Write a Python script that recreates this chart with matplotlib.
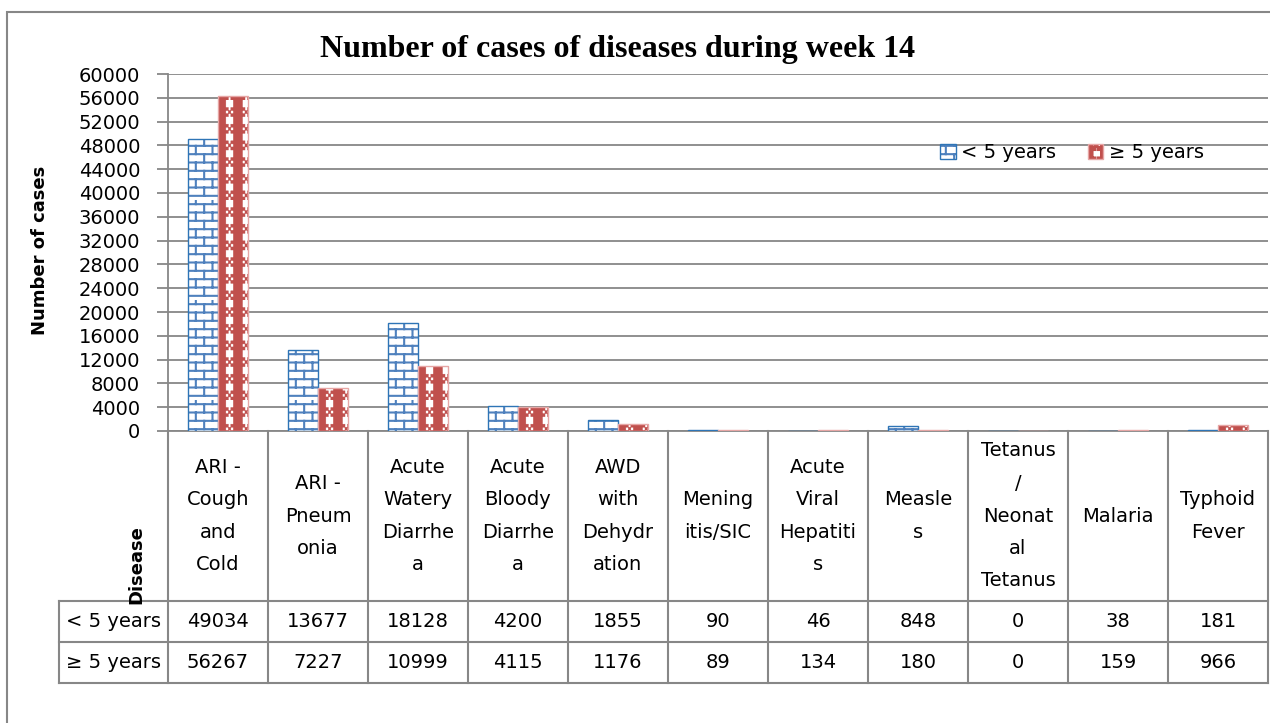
import warnings
warnings.filterwarnings("ignore")
import numpy as np
import matplotlib
matplotlib.use("Agg")
import matplotlib.pyplot as plt
import matplotlib.hatch as mhatch
from matplotlib.path import Path
from matplotlib.colors import to_rgba
from matplotlib.patches import Rectangle

# ---------------- data ----------------
categories = ["ARI -\nCough\nand\nCold", "ARI -\nPneum\nonia", "Acute\nWatery\nDiarrhe\na",
              "Acute\nBloody\nDiarrhe\na", "AWD\nwith\nDehydr\nation", "Mening\nitis/SIC",
              "Acute\nViral\nHepatiti\ns", "Measle\ns", "Tetanus\n/\nNeonat\nal\nTetanus",
              "Malaria", "Typhoid\nFever"]
under5 = [49034, 13677, 18128, 4200, 1855, 90, 46, 848, 0, 38, 181]
over5 = [56267, 7227, 10999, 4115, 1176, 89, 134, 180, 0, 159, 966]
series_names = ["< 5 years", "\u2265 5 years"]
yticks = list(range(0, 60001, 4000))
title = "Number of cases of diseases during week 14"


# ---------------- custom hatches ----------------
class BrickHatch(mhatch.HatchPatternBase):
    def __init__(self, hatch, density):
        self.on = 'B' in hatch
        self.rows = 12
        self.cols = 6
        self.num_vertices = (2 * self.rows + 2 * self.rows * self.cols) if self.on else 0

    def set_vertices_and_codes(self, vertices, codes):
        k = 0
        r, c = self.rows, self.cols
        for i in range(r):
            y0 = (i + 0.5) / r
            vertices[k] = (0, y0); vertices[k + 1] = (1, y0)
            codes[k] = Path.MOVETO; codes[k + 1] = Path.LINETO
            k += 2
            for j in range(c):
                x = (j + 0.25 + 0.5 * (i % 2)) / c
                vertices[k] = (x, y0); vertices[k + 1] = (x, y0 + 1.0 / r)
                codes[k] = Path.MOVETO; codes[k + 1] = Path.LINETO
                k += 2


class GinghamHatch(mhatch.HatchPatternBase):
    def __init__(self, hatch, density):
        self.on = 'G' in hatch
        self.n = 6
        self.sub = 3
        self.per = (self.sub * self.sub + 1) // 2
        self.num_vertices = (self.n * 5 + self.n * self.n * self.per * 5) if self.on else 0

    def _rect(self, vertices, codes, k, x0, y0, x1, y1):
        vertices[k:k + 5] = [(x0, y0), (x1, y0), (x1, y1), (x0, y1), (x0, y0)]
        codes[k:k + 5] = [Path.MOVETO, Path.LINETO, Path.LINETO, Path.LINETO, Path.CLOSEPOLY]
        return k + 5

    def set_vertices_and_codes(self, vertices, codes):
        n, s = self.n, self.sub
        k = 0
        sw = 0.55
        for j in range(n):
            k = self._rect(vertices, codes, k, j / n, 0, (j + sw) / n, 1)
        for j in range(n):
            bx0 = (j + sw) / n
            bx1 = (j + 1) / n
            for i in range(n):
                by0 = i / n
                by1 = (i + 0.55) / n
                dx = (bx1 - bx0) / s
                dy = (by1 - by0) / s
                for a in range(s):
                    for b in range(s):
                        if (a + b) % 2 == 0:
                            k = self._rect(vertices, codes, k,
                                           bx0 + a * dx, by0 + b * dy,
                                           bx0 + (a + 1) * dx, by0 + (b + 1) * dy)


mhatch._hatch_types.append(BrickHatch)
mhatch._hatch_types.append(GinghamHatch)

# ---------------- figure ----------------
W, H = 1270, 723
plt.rcParams['font.family'] = ['DejaVu Sans']
plt.rcParams['hatch.linewidth'] = 1.5
fig = plt.figure(figsize=(W / 100, H / 100), dpi=100)
fig.patch.set_facecolor('white')

gray = '#878787'

# outer frame
fig.add_artist(Rectangle((7 / W, -0.05), 1.2, (H - 12) / H + 0.05, transform=fig.transFigure,
                         fill=False, edgecolor=gray, linewidth=1.5))

ax = fig.add_axes([168 / W, (H - 431) / H, 1100 / W, (431 - 74) / H])
x = np.arange(len(categories)) + 0.5
bw = 0.3
with plt.rc_context({'hatch.linewidth': 1.5}):
    b1 = ax.bar(x - bw / 2, under5, bw, facecolor='white', edgecolor='#2E75B6', hatch='B',
                linewidth=1.0, label=series_names[0], zorder=3)
with plt.rc_context({'hatch.linewidth': 0.3}):
    b2 = ax.bar(x + bw / 2, over5, bw, facecolor='white', edgecolor='#E6A6A5', hatch='G',
                linewidth=1.0, label=series_names[1], zorder=3)
for p in b1:
    p._hatch_color = to_rgba('#4F81BD')
    if hasattr(p, 'set_hatch_linewidth'):
        p.set_hatch_linewidth(1.5)
for p in b2:
    p._hatch_color = to_rgba('#C0504D')
    if hasattr(p, 'set_hatch_linewidth'):
        p.set_hatch_linewidth(0.3)

ax.set_xlim(0, len(categories))
ax.set_ylim(0, 60000)
ax.set_yticks(yticks)
ax.set_yticklabels([str(t) for t in yticks], fontsize=14)
ax.set_xticks([])
ax.tick_params(axis='y', length=8, width=1.3, color=gray, pad=12)
ax.yaxis.grid(True, color=gray, linewidth=1.3)
ax.set_axisbelow(True)
for sp in ['top', 'right']:
    ax.spines[sp].set_visible(False)
for sp in ['left', 'bottom']:
    ax.spines[sp].set_color(gray)
    ax.spines[sp].set_linewidth(1.3)

# legend
leg = fig.legend(handles=[b1, b2], labels=series_names, loc='center left',
                 bbox_to_anchor=(940 / W, 1 - 153 / H), frameon=False, ncol=2,
                 fontsize=14, handlelength=0.8, handleheight=0.8, handletextpad=0.3,
                 columnspacing=1.6, borderpad=0, borderaxespad=0)

# titles / labels
fig.text(618 / W, 1 - 57 / H, title, ha='center', va='baseline',
         fontsize=23, fontweight='bold', family='Liberation Serif')
fig.text(40 / W, 1 - 250 / H, "Number of cases", rotation=90, ha='center', va='center',
         fontsize=13, fontweight='bold')

# ---------------- data table ----------------
tax = fig.add_axes([59 / W, (H - 683) / H, (1268 - 59) / W, (683 - 431) / H])
lab_w = 1.09
tax.set_xlim(-lab_w, len(categories))
tax.set_ylim(0, 252)
tax.axis('off')
lkw = dict(color=gray, linewidth=1.5, clip_on=False, solid_capstyle='projecting')
for yy in [0, 41, 82]:
    tax.plot([-lab_w, len(categories)], [yy, yy], **lkw)
tax.plot([-lab_w, -lab_w], [0, 82], **lkw)
for xx in range(len(categories) + 1):
    tax.plot([xx, xx], [0, 252], **lkw)

line_sp = 32.5
for i, name in enumerate(categories):
    parts = name.split('\n')
    nl = len(parts)
    for k, ptxt in enumerate(parts):
        yy = 167 + (nl - 1) / 2 * line_sp - k * line_sp
        tax.text(i + 0.5, yy, ptxt, ha='center', va='center', fontsize=14)
for i in range(len(categories)):
    tax.text(i + 0.5, 61.5, str(under5[i]), ha='center', va='center', fontsize=14)
    tax.text(i + 0.5, 20.5, str(over5[i]), ha='center', va='center', fontsize=14)
tax.text(-lab_w / 2, 61.5, series_names[0], ha='center', va='center', fontsize=14)
tax.text(-lab_w / 2, 20.5, series_names[1], ha='center', va='center', fontsize=14)
tax.text(-0.32, 118, "Disease", rotation=90, ha='center', va='center',
         fontsize=13, fontweight='bold')

fig.savefig('out.png', dpi=100)
